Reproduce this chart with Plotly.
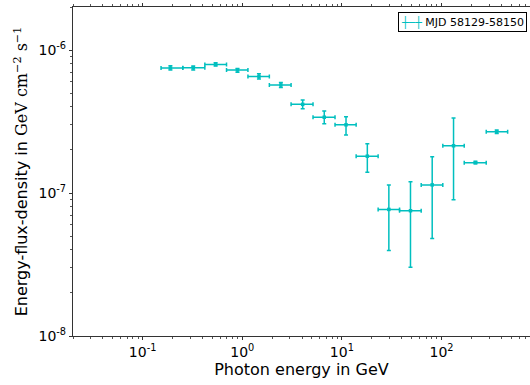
import plotly.graph_objects as go

# Energy bins (GeV): centres and edges
e_center = [0.190, 0.322, 0.540, 0.895, 1.47, 2.44, 4.04, 6.65, 11.0, 18.0, 29.6, 48.8, 80.6, 132.0, 219.0, 358.0]
e_low    = [0.153, 0.253, 0.421, 0.695, 1.14, 1.87, 3.09, 5.13, 8.53, 13.9, 23.1, 37.9, 62.5, 103.0, 169.0, 281.0]
e_high   = [0.253, 0.421, 0.695, 1.14, 1.87, 3.09, 5.13, 8.53, 13.9, 23.1, 37.9, 62.5, 103.0, 169.0, 281.0, 461.0]

# Energy-flux density (GeV cm^-2 s^-1) with lower / upper bounds
flux      = [7.49e-7, 7.52e-7, 7.93e-7, 7.25e-7, 6.54e-7, 5.70e-7, 4.17e-7, 3.39e-7, 3.00e-7, 1.81e-7, 7.68e-8, 7.52e-8, 1.14e-7, 2.14e-7, 1.63e-7, 2.68e-7]
flux_low  = [7.25e-7, 7.25e-7, 7.73e-7, 6.98e-7, 6.27e-7, 5.46e-7, 3.88e-7, 3.05e-7, 2.55e-7, 1.40e-7, 3.96e-8, 3.03e-8, 4.80e-8, 8.98e-8, 1.60e-7, 2.61e-7]
flux_high = [7.77e-7, 7.73e-7, 8.15e-7, 7.44e-7, 6.83e-7, 5.94e-7, 4.48e-7, 3.75e-7, 3.42e-7, 2.21e-7, 1.14e-7, 1.20e-7, 1.79e-7, 3.35e-7, 1.67e-7, 2.76e-7]

x_ticks = [0.1, 1, 10, 100]
x_tick_text = ["10<sup>-1</sup>", "10<sup>0</sup>", "10<sup>1</sup>", "10<sup>2</sup>"]
y_ticks = [1e-8, 1e-7, 1e-6]
y_tick_text = ["10<sup>-8</sup>", "10<sup>-7</sup>", "10<sup>-6</sup>"]

series_name = "MJD 58129-58150"
color = "#00BFBF"

xe_plus = [h - c for h, c in zip(e_high, e_center)]
xe_minus = [c - l for c, l in zip(e_center, e_low)]
ye_plus = [h - f for h, f in zip(flux_high, flux)]
ye_minus = [f - l for f, l in zip(flux, flux_low)]

fig = go.Figure()
fig.add_trace(go.Scatter(
    x=e_center, y=flux, mode="markers", name=series_name,
    marker=dict(symbol="square", size=3.5, color=color),
    error_x=dict(type="data", symmetric=False, array=xe_plus, arrayminus=xe_minus,
                 color=color, thickness=1.5, width=2),
    error_y=dict(type="data", symmetric=False, array=ye_plus, arrayminus=ye_minus,
                 color=color, thickness=1.5, width=2),
    showlegend=False,
))

font = "DejaVu Sans, sans-serif"
axis_common = dict(
    type="log", showgrid=False, zeroline=False,
    showline=True, linecolor="#333333", linewidth=1.2,
    ticks="outside", ticklen=3, tickwidth=1, tickcolor="#333333",
    tickfont=dict(family=font, size=14, color="black"),
    minor=dict(ticks="outside", ticklen=2, tickcolor="#555555", dtick="D1", showgrid=False),
)

fig.update_xaxes(
    **axis_common, mirror="ticks",
    range=[-1.69897, 2.888],
    tickvals=x_ticks, ticktext=x_tick_text,
    title=dict(text="Photon energy in GeV", font=dict(family=font, size=16, color="black"), standoff=4),
)
fig.update_yaxes(
    **axis_common, mirror=False,
    range=[-8, -5.69897],
    tickvals=y_ticks, ticktext=y_tick_text,
    title=dict(text="Energy-flux-density in <span style='font-family:DejaVu Serif'>GeV cm<sup>−2</sup> s<sup>−1</sup></span>",
               font=dict(family=font, size=16, color="black"), standoff=6),
)

# legend box (errorbar glyph + series name)
fig.add_annotation(
    xref="paper", yref="paper", x=0.994, y=0.985, xanchor="right", yanchor="top",
    text=f"<span style='color:{color}'>┼─┼</span> {series_name}",
    showarrow=False, align="left",
    font=dict(family=font, size=11, color="black"),
    bgcolor="white", bordercolor="black", borderwidth=1, borderpad=2,
)

fig.update_layout(
    width=530, height=385,
    margin=dict(l=73, r=0, t=7, b=49),
    paper_bgcolor="white", plot_bgcolor="white",
    font=dict(family=font, color="black"),
    showlegend=False,
)

fig.write_html("out.html", config={"displayModeBar": False},
               post_script="document.body.style.margin='0';document.body.style.overflow='hidden';")
